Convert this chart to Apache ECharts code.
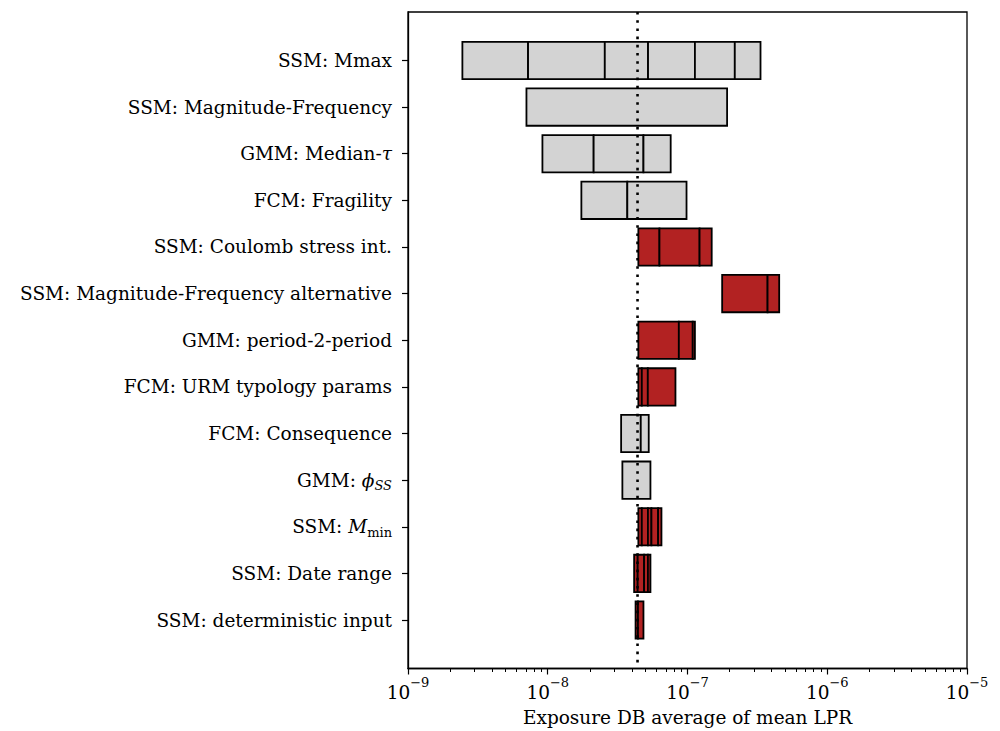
<!DOCTYPE html>
<html>
<head>
<meta charset="utf-8">
<script src="https://cdn.jsdelivr.net/npm/echarts@6/dist/echarts.min.js"></script>
<style>
  html, body { margin: 0; padding: 0; background: #fff; }
  #chart { width: 1000px; height: 731px; }
</style>
</head>
<body>
<div id="chart"></div>
<script>
// Input parameters, top to bottom
const categories = [
  'SSM: Mmax',
  'SSM: Magnitude-Frequency',
  'GMM: Median-τ',
  'FCM: Fragility',
  'SSM: Coulomb stress int.',
  'SSM: Magnitude-Frequency alternative',
  'GMM: period-2-period',
  'FCM: URM typology params',
  'FCM: Consequence',
  'GMM: ϕSS',
  'SSM: Mmin',
  'SSM: Date range',
  'SSM: deterministic input'
];

// Sorted LPR results of each branch option (outer values are the bar ends)
const mmaxValues          = [2.45e-9, 7.23e-9, 2.56e-8, 5.22e-8, 1.13e-7, 2.18e-7, 3.33e-7];
const magFreqValues       = [7.04e-9, 1.92e-7];
const medianTauValues     = [9.16e-9, 2.13e-8, 4.84e-8, 7.58e-8];
const fragilityValues     = [1.74e-8, 3.71e-8, 9.84e-8];
const coulombValues       = [4.45e-8, 6.30e-8, 1.22e-7, 1.49e-7];
const magFreqAltValues    = [1.77e-7, 3.74e-7, 4.53e-7];
const period2PeriodValues = [4.45e-8, 8.67e-8, 1.09e-7, 1.13e-7];
const urmTypologyValues   = [4.45e-8, 4.71e-8, 5.20e-8, 8.20e-8];
const consequenceValues   = [3.35e-8, 4.63e-8, 5.28e-8];
const phiSSValues         = [3.42e-8, 5.43e-8];
const mminValues          = [4.45e-8, 4.71e-8, 5.21e-8, 5.52e-8, 6.16e-8, 6.51e-8];
const dateRangeValues     = [4.15e-8, 4.40e-8, 4.89e-8, 5.21e-8, 5.43e-8];
const deterministicValues = [4.25e-8, 4.42e-8, 4.84e-8];

const branchValues = [
  mmaxValues, magFreqValues, medianTauValues, fragilityValues, coulombValues,
  magFreqAltValues, period2PeriodValues, urmTypologyValues, consequenceValues,
  phiSSValues, mminValues, dateRangeValues, deterministicValues
];

// Parameters whose range lies (mostly) above the reference result
const highlighted = [false, false, false, false, true, true, true, true, false, false, true, true, true];

// Reference (mean) exposure DB LPR
const referenceLPR = 4.39e-8;

// Axis decades and minor tick positions
const xMin = 1e-9, xMax = 1e-5;
const minorTickValues = [];
for (let e = -9; e < -5; e++) {
  for (let m = 2; m <= 9; m++) minorTickValues.push(m * Math.pow(10, e));
}

// Segment rectangles: one per adjacent pair of branch values
const segments = [];
branchValues.forEach((vals, i) => {
  for (let k = 0; k < vals.length - 1; k++) {
    segments.push([vals[k], vals[k + 1], i, highlighted[i] ? 1 : 0]);
  }
});

const SERIF = 'DejaVu Serif';
const FS = 18.5;

function yLabel(value) {
  const name = categories[value];
  if (name === undefined) return '';
  if (value === 2) return '{n|GMM: Median-}{i|τ}';
  if (value === 9) return '{n|GMM: }{i|ϕ}{subi|SS}';
  if (value === 10) return '{n|SSM: }{i|M}{sub|min}';
  return '{n|' + name + '}';
}

const chart = echarts.init(document.getElementById('chart'), null, { renderer: 'svg' });

chart.setOption({
  backgroundColor: '#fff',
  animation: false,
  grid: {
    left: 408, right: 33, top: 12, bottom: 62.5,
    outerBoundsMode: 'none',
    containLabel: false,
    show: true, borderColor: '#000', borderWidth: 1.3, backgroundColor: 'transparent'
  },
  xAxis: [
    {
      type: 'log', logBase: 10, min: xMin, max: xMax, position: 'bottom',
      name: 'Exposure DB average of mean LPR',
      nameLocation: 'middle', nameGap: 39,
      nameTextStyle: { fontFamily: SERIF, fontSize: FS, color: '#000' },
      axisLine: { show: true, onZero: false, lineStyle: { color: '#000', width: 1.3 } },
      axisTick: { show: true, length: 6, lineStyle: { color: '#000', width: 1.2 } },
      splitLine: { show: false },
      axisLabel: {
        margin: 7,
        formatter: function (v) {
          const e = Math.round(Math.log10(v));
          return '{b|10}{s|\u2212' + Math.abs(e) + '}';
        },
        rich: {
          b: { fontFamily: SERIF, fontSize: FS, color: '#000', verticalAlign: 'bottom', lineHeight: 26 },
          s: { fontFamily: SERIF, fontSize: 13, color: '#000', verticalAlign: 'top', lineHeight: 14 }
        }
      }
    },
    {
      type: 'log', logBase: 10, min: xMin, max: xMax, position: 'bottom',
      axisLine: { show: false, onZero: false },
      axisLabel: { show: false },
      splitLine: { show: false },
      axisTick: {
        show: true, length: 3.5, customValues: minorTickValues,
        lineStyle: { color: '#000', width: 1 }
      }
    }
  ],
  yAxis: {
    type: 'value', inverse: true, min: -1.04, max: 13.04,
    axisLine: { show: true, onZero: false, lineStyle: { color: '#000', width: 1.3 } },
    splitLine: { show: false },
    axisTick: {
      show: true, length: 6, customValues: categories.map((_, i) => i),
      lineStyle: { color: '#000', width: 1.2 }
    },
    axisLabel: {
      margin: 16,
      customValues: categories.map((_, i) => i),
      formatter: yLabel,
      rich: {
        n: { fontFamily: SERIF, fontSize: FS, color: '#000', verticalAlign: 'middle', lineHeight: 24 },
        i: { fontFamily: SERIF, fontSize: FS, fontStyle: 'italic', color: '#000', verticalAlign: 'middle', lineHeight: 24 },
        sub: { fontFamily: SERIF, fontSize: 13, color: '#000', verticalAlign: 'bottom', lineHeight: 24, padding: [10, 0, 0, 0] },
        subi: { fontFamily: SERIF, fontSize: 13, fontStyle: 'italic', color: '#000', verticalAlign: 'bottom', lineHeight: 24, padding: [10, 0, 0, 0] }
      }
    }
  },
  series: [
    {
      type: 'custom',
      xAxisIndex: 0,
      encode: { x: [0, 1], y: 2 },
      data: segments,
      z: 2,
      renderItem: function (params, api) {
        const lo = api.value(0), hi = api.value(1), idx = api.value(2);
        const p0 = api.coord([lo, idx - 0.4]);
        const p1 = api.coord([hi, idx + 0.4]);
        return {
          type: 'rect',
          shape: { x: p0[0], y: p0[1], width: p1[0] - p0[0], height: p1[1] - p0[1] },
          style: {
            fill: api.value(3) ? '#B22222' : '#D3D3D3',
            stroke: '#000',
            lineWidth: 1.8
          }
        };
      }
    },
    {
      type: 'line',
      xAxisIndex: 0,
      data: [[referenceLPR, -1.04], [referenceLPR, 13.04]],
      symbol: 'none',
      z: 5,
      lineStyle: { color: '#000', width: 2.6, type: [2.6, 5.6], cap: 'butt' },
      silent: true
    }
  ]
});
</script>
</body>
</html>
